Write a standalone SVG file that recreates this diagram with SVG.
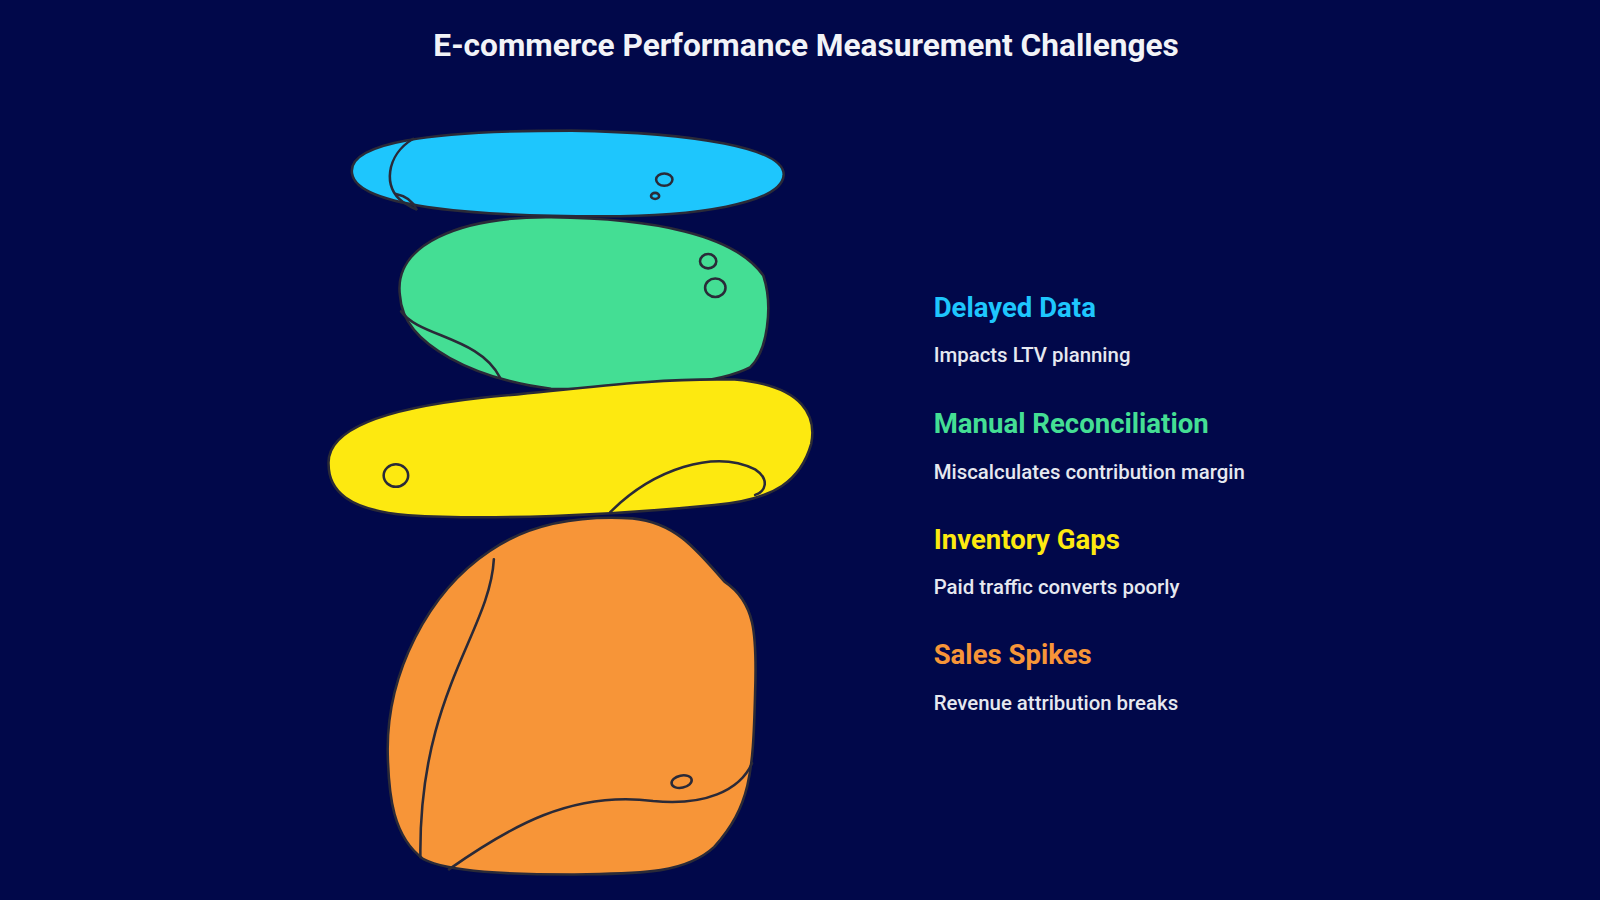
<svg xmlns="http://www.w3.org/2000/svg" width="1600" height="900" viewBox="0 0 1600 900">
<style>
.s{stroke:#2a2a38;stroke-width:2.5;fill:none;stroke-linecap:round}
.t{font-family:Roboto,"Liberation Sans",sans-serif;font-weight:700;font-size:27px}
.d{font-family:Roboto,"Liberation Sans",sans-serif;font-weight:500;font-size:20px;fill:#e6e8f0}
</style>
<rect width="1600" height="900" fill="#01084a"/>
<g transform="scale(1.0204)">
<text x="790" y="55" text-anchor="middle" font-family="Roboto,'Liberation Sans',sans-serif" font-weight="700" font-size="31" fill="#f2f3f7">E-commerce Performance Measurement Challenges</text>
<g id="stone-blue">
<path d="M345 170C340 140 420 128 560 128C680 130 770 145 768 172C765 200 680 212 590 212C480 212 350 205 345 170Z" fill="#1ec6fd" class="s" style="fill:#1ec6fd"/>
<path class="s" d="M405 136C378 152 375 185 395 198C402 202 406 205 408 205"/>
<path class="s" d="M388 190C398 192 405 198 408 205"/>
<ellipse class="s" cx="651" cy="176" rx="8" ry="6"/><ellipse class="s" cx="642" cy="192" rx="4" ry="3"/>
</g>
<g id="stone-green">
<path class="s" style="fill:#44de94" d="M392 290C385 240 450 212 540 213C640 214 720 230 748 270C758 300 752 345 735 360C700 378 620 382 540 381C470 372 395 340 392 290Z"/>
<path class="s" d="M393 305C410 330 470 330 490 370"/>
<ellipse class="s" cx="694" cy="256" rx="8" ry="7"/><ellipse class="s" cx="701" cy="282" rx="10" ry="9"/>
</g>
<g id="stone-yellow">
<path class="s" style="fill:#fde910" d="M322 455C320 420 380 400 470 390C560 382 640 370 720 372C790 378 800 410 795 435C785 470 760 490 700 495C600 505 480 510 400 505C340 500 322 480 322 455Z"/>
<path class="s" d="M598 502C640 460 700 440 740 460C755 470 750 482 740 485"/>
<ellipse class="s" cx="388" cy="466" rx="12" ry="11"/>
</g>
<g id="stone-orange">
<path class="s" style="fill:#f79538" d="M380 740C378 660 420 580 480 540C520 512 570 505 620 508C660 512 680 535 710 570C740 590 742 620 740 680C738 760 735 790 700 830C670 858 620 856 560 857C500 857 440 855 415 842C385 820 381 780 380 740Z"/>
<path class="s" d="M484 548C480 620 410 680 412 840"/>
<path class="s" d="M440 852C500 810 560 775 640 785C690 790 725 775 737 748"/>
<ellipse class="s" cx="668" cy="766" rx="10" ry="6" transform="rotate(-12 668 766)"/>
</g>
<g id="labels">
<text class="t" x="915" y="311" fill="#1ec6fd">Delayed Data</text>
<text class="d" x="915" y="355">Impacts LTV planning</text>
<text class="t" x="915" y="424" fill="#44de94">Manual Reconciliation</text>
<text class="d" x="915" y="469">Miscalculates contribution margin</text>
<text class="t" x="915" y="538" fill="#fde910">Inventory Gaps</text>
<text class="d" x="915" y="582">Paid traffic converts poorly</text>
<text class="t" x="915" y="651" fill="#f79538">Sales Spikes</text>
<text class="d" x="915" y="696">Revenue attribution breaks</text>
</g>
<g id="connectors"/>
</g>
</svg>
